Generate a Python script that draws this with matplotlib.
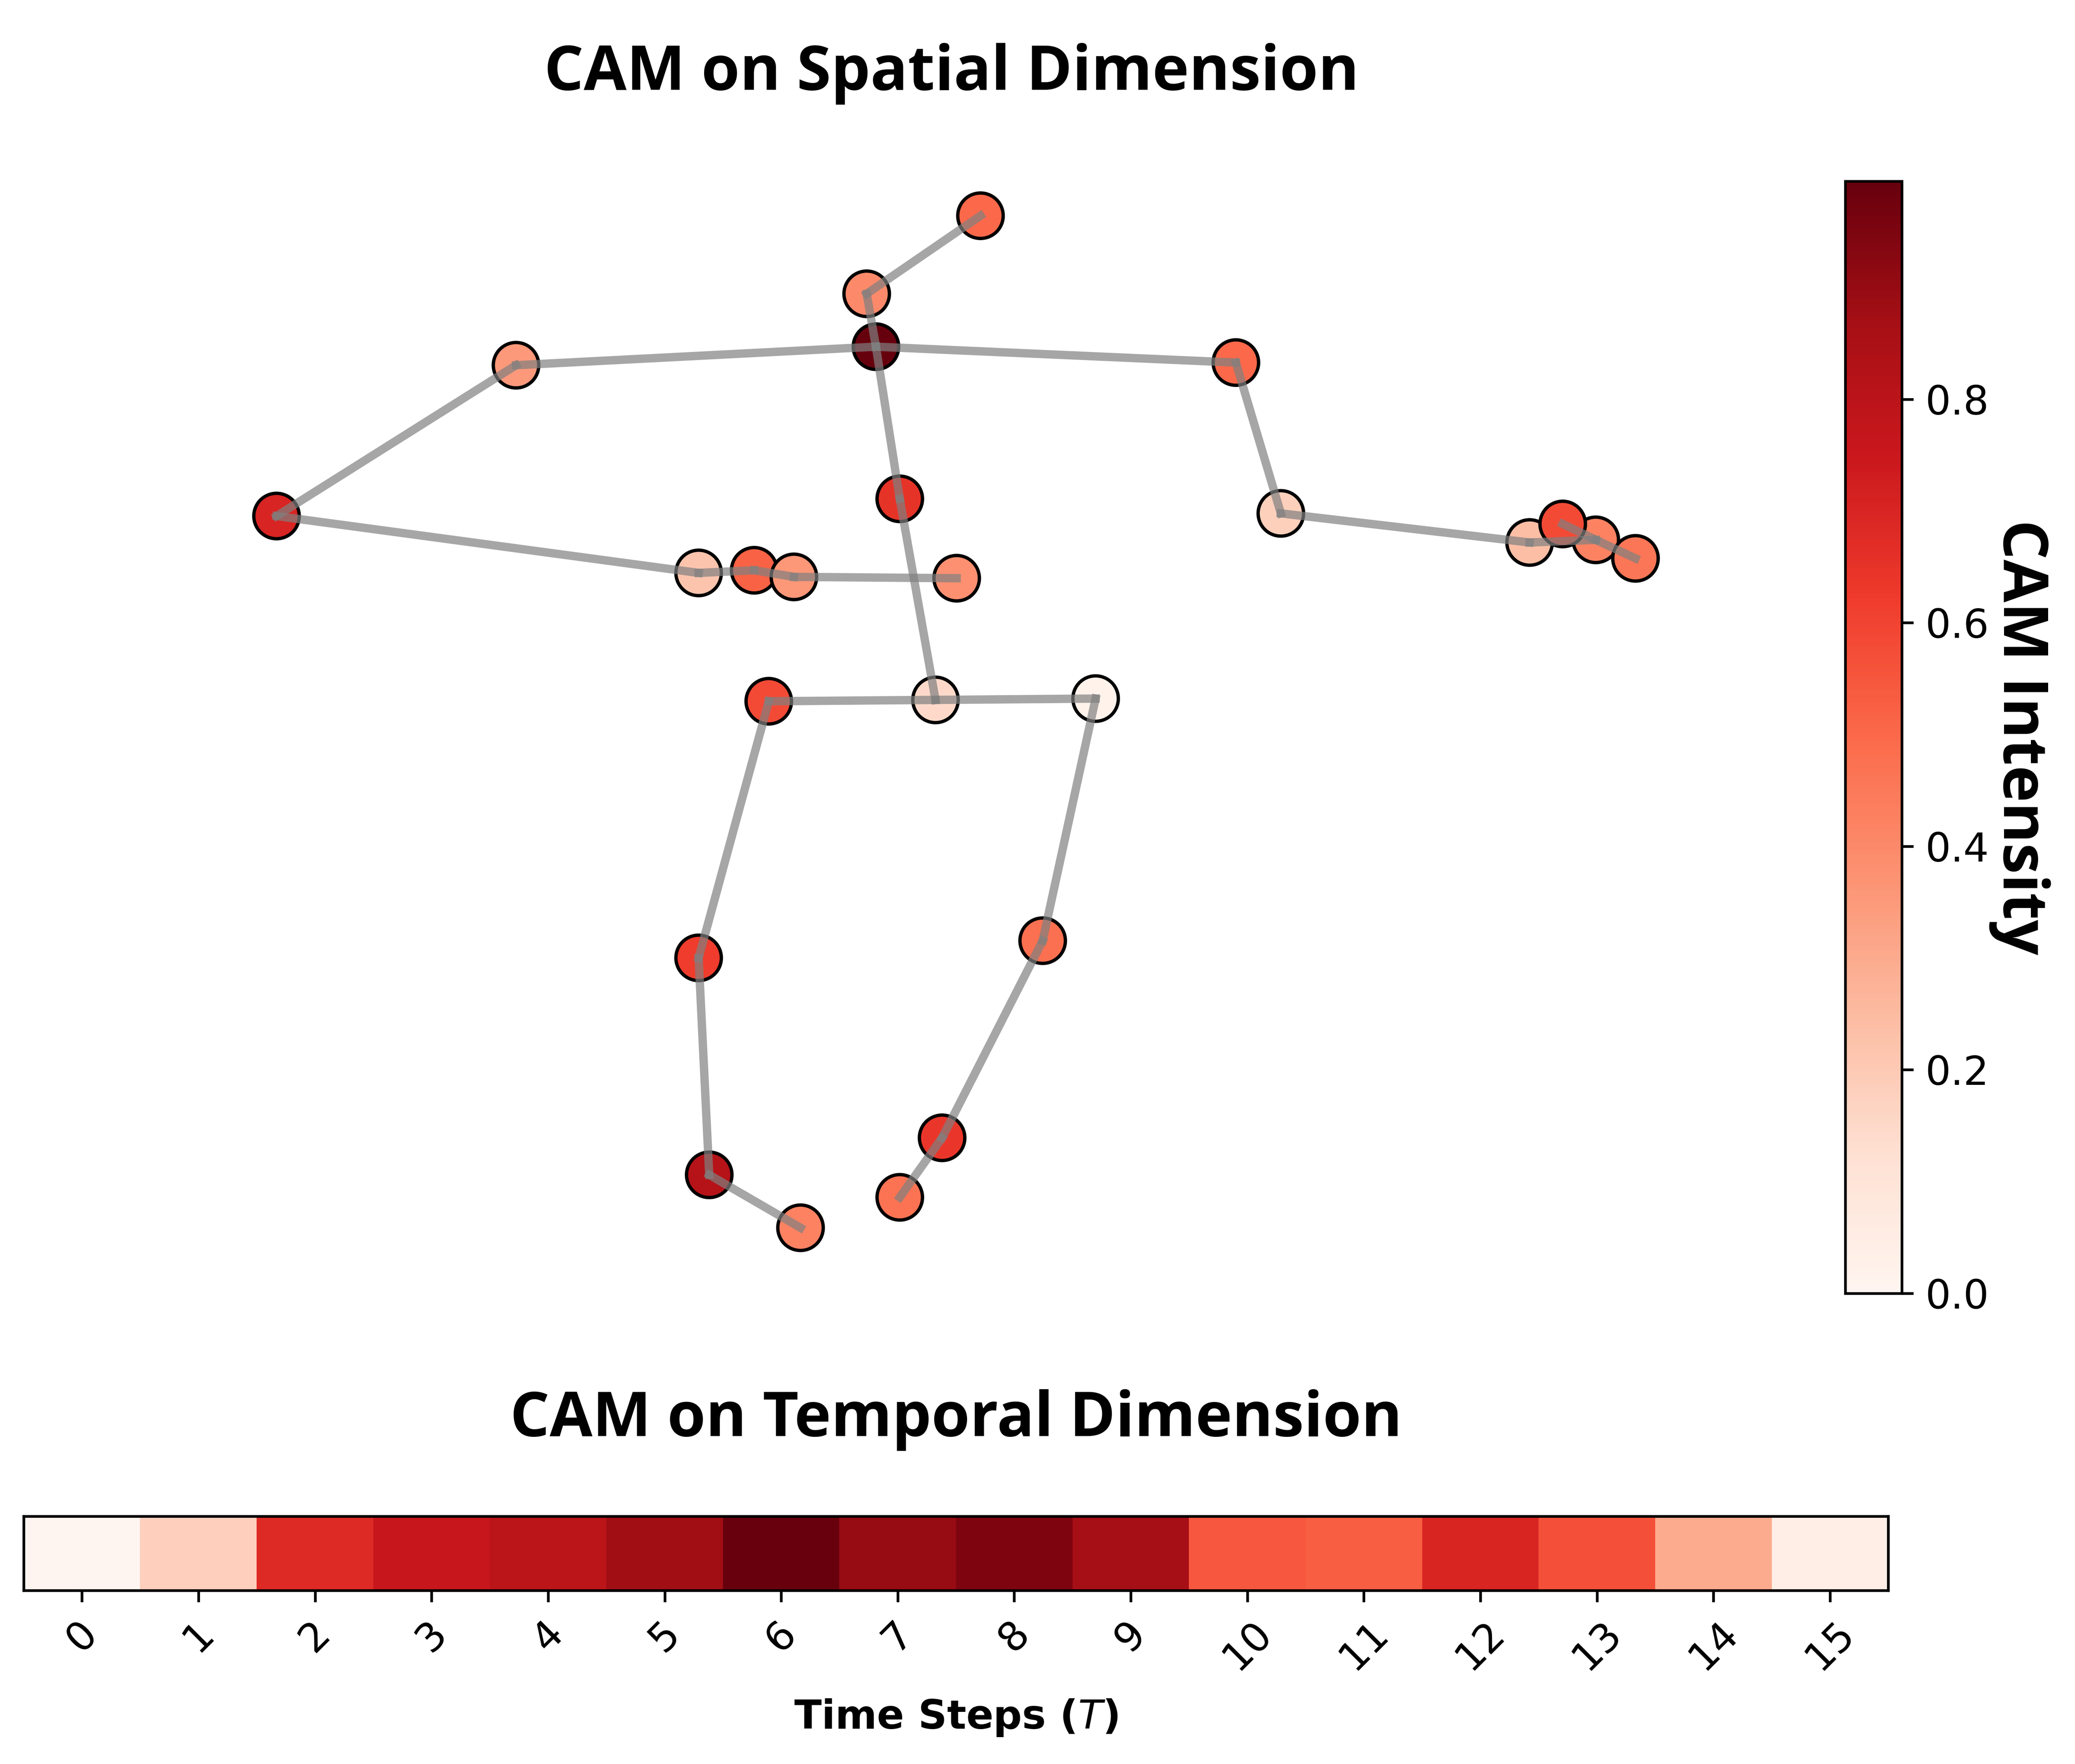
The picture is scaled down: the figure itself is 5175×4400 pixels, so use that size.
import matplotlib.pyplot as plt
import numpy as np

# joint positions (image coordinates, y grows downward) and spatial CAM per joint
joint_x = [707, 680, 655, 741, 390, 209, 528, 570, 934, 968, 1156, 1206,
           581, 528, 536, 605, 828, 788, 712, 680, 662, 723, 600, 1236, 1181]
joint_y = [529, 377, 222, 163, 276, 390, 433, 431, 274, 388, 410, 408,
           530, 724, 888, 928, 528, 711, 860, 905, 262, 437, 436, 422, 396]
joint_cam = [0.15, 0.65, 0.40, 0.50, 0.35, 0.70, 0.22, 0.52, 0.50, 0.18, 0.24, 0.42,
             0.58, 0.62, 0.82, 0.42, 0.02, 0.48, 0.64, 0.47, 0.995, 0.38, 0.36, 0.46, 0.58]

bones = [(0, 1), (1, 20), (20, 2), (2, 3),
         (20, 4), (4, 5), (5, 6), (6, 7), (7, 22), (22, 21),
         (20, 8), (8, 9), (9, 10), (10, 11), (11, 24), (11, 23),
         (0, 12), (12, 13), (13, 14), (14, 15),
         (0, 16), (16, 17), (17, 18), (18, 19)]

# temporal CAM per time step
time_steps = list(range(16))
temporal_cam = [0.0, 0.18, 0.68, 0.76, 0.80, 0.88, 1.0, 0.90,
                0.95, 0.87, 0.55, 0.53, 0.70, 0.57, 0.30, 0.04]

title_font = 'Open Sans'
title_size = 18.6

fig = plt.figure(figsize=(5175 / 600, 4400 / 600), dpi=600)

# --- spatial ---
ax = fig.add_axes([0.0114, 0.25, 0.8945, 0.9293 - 0.25])
for a, b in bones:
    ax.plot([joint_x[a], joint_x[b]], [joint_y[a], joint_y[b]],
            color='gray', alpha=0.7, linewidth=2.5, zorder=2)
sc = ax.scatter(joint_x, joint_y, c=joint_cam, cmap='Reds', vmin=0,
                s=185, edgecolors='black', linewidths=1.0, zorder=1)
ax.set_xlim(17.9, 1420.6)
ax.set_ylim(1000, 94.2)
ax.axis('off')
ax.set_title('CAM on Spatial Dimension', fontsize=title_size, fontweight='bold',
             family=title_font, pad=10.5)

cax = fig.add_axes([0.8893, 0.2668, 0.0272, 0.6305])
cb = fig.colorbar(sc, cax=cax)
cb.ax.tick_params(labelsize=12)
cb.set_label('CAM Intensity', rotation=270, va='bottom', fontsize=title_size,
             fontweight='bold', family=title_font, labelpad=0)

# --- temporal ---
hax = fig.add_axes([0.0114, 0.0984, 0.8986, 0.0421])
hax.imshow(np.array(temporal_cam)[None, :], cmap='Reds', aspect='auto', vmin=0, vmax=1)
hax.set_xticks(time_steps)
hax.set_xticklabels([str(t) for t in time_steps], rotation=45, fontsize=12)
hax.set_yticks([])
hax.set_xlabel('Time Steps ($T$)', fontsize=12, fontweight='bold', labelpad=6)
hax.set_title('CAM on Temporal Dimension', fontsize=title_size, fontweight='bold',
              family=title_font, pad=24)

fig.savefig('out.png', dpi=600)
